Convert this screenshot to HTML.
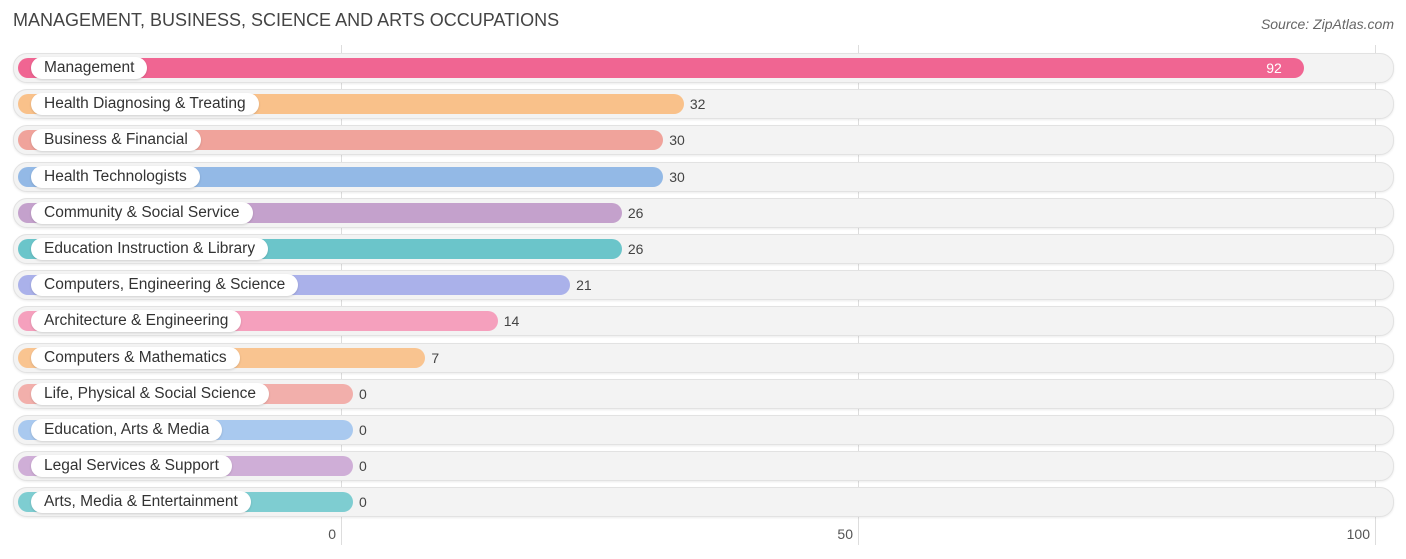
<!DOCTYPE html>
<html><head><meta charset="utf-8"><style>
body{margin:0;width:1406px;height:559px;background:#fff;font-family:"Liberation Sans",sans-serif;position:relative;overflow:hidden}
.t{position:absolute;left:13px;top:10px;font-size:18px;color:#444}
.s{position:absolute;right:12px;top:16px;font-size:14px;color:#666;font-style:italic}
.grid{position:absolute;top:45px;width:1px;height:500px;background:#ddd}
.tick{position:absolute;top:526px;font-size:14px;color:#555;transform:translateX(-100%)}
.row{position:absolute;left:13px;width:1379px;height:28px;border-radius:14px;background:#f3f3f3;border:1px solid #e2e2e2;box-shadow:0 1px 2px rgba(0,0,0,.08)}
.bar{position:absolute;left:18px;height:20px;border-radius:10px}
.lab{position:absolute;left:31px;height:22px;line-height:22px;padding:0 13px;background:#fff;border-radius:11px;font-size:15.5px;color:#333;box-shadow:0 1px 2px rgba(0,0,0,.15);white-space:nowrap}
.val{position:absolute;font-size:14px;line-height:20px;color:#444}
</style></head><body>
<div class="t">MANAGEMENT, BUSINESS, SCIENCE AND ARTS OCCUPATIONS</div>
<div class="s">Source: ZipAtlas.com</div>
<div id="c"></div>
<script>
const categories=["Management","Health Diagnosing & Treating","Business & Financial","Health Technologists","Community & Social Service","Education Instruction & Library","Computers, Engineering & Science","Architecture & Engineering","Computers & Mathematics","Life, Physical & Social Science","Education, Arts & Media","Legal Services & Support","Arts, Media & Entertainment"];
const values=[92,32,30,30,26,26,21,14,7,0,0,0,0];
const ticks=[0,50,100];
const colors=["#f06592","#f9c18a","#f0a39b","#93b9e6","#c4a1cc","#6bc5ca","#aab1ea","#f5a0bd","#f9c490","#f2afab","#a9c9ef","#cfaed7","#7ecdd1"];
const x0=341,scale=(1375-341)/100;
const X=v=>x0+v*scale;
const c=document.getElementById('c');
ticks.forEach(t=>{
 const g=document.createElement('div');g.className='grid';g.style.left=X(t)+'px';
 
 
 c.appendChild(g);
 const l=document.createElement('div');l.className='tick';l.style.left=(X(t)-5)+'px';l.textContent=t;
 
 
 c.appendChild(l);
});
categories.forEach((cat,i)=>{
 const cy=68+i*36.2;
 const r=document.createElement('div');r.className='row';r.style.top=(cy-15)+'px';
 
 
 c.appendChild(r);
 const b=document.createElement('div');b.className='bar';b.style.top=(cy-10)+'px';
 const end=X(values[i])+12;b.style.width=(end-18)+'px';b.style.background=colors[i];
 
 
 c.appendChild(b);
 const l=document.createElement('div');l.className='lab';l.style.top=(cy-11)+'px';l.textContent=cat;
 
 
 c.appendChild(l);
 const v=document.createElement('div');v.className='val';v.style.top=(cy-10)+'px';v.textContent=values[i];
 
 
 if(values[i]>80){v.style.left=(end-38)+'px';v.style.color='#fff';}else{v.style.left=(end+6)+'px';}
 c.appendChild(v);
});
</script>
</body></html>
